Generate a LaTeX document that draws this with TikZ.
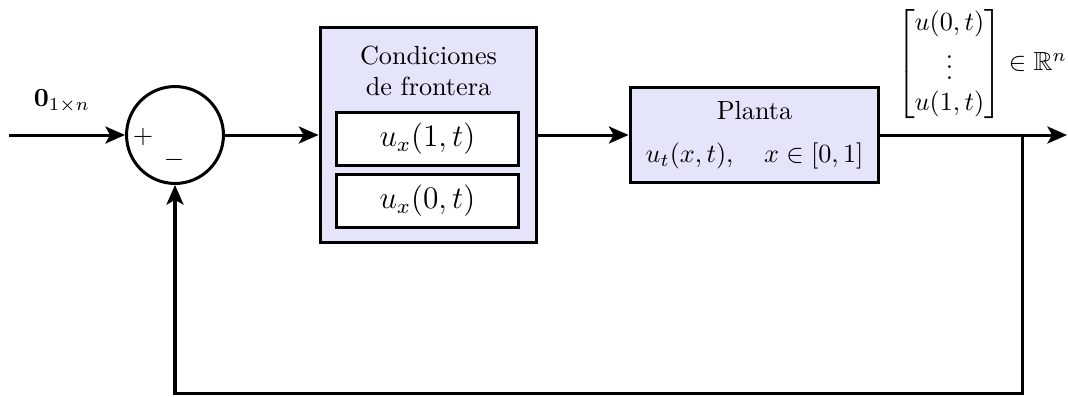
\documentclass[tikz,border=0pt]{standalone}
\usepackage{amsmath,amssymb}
\usetikzlibrary{arrows.meta}
\definecolor{boxfill}{RGB}{228,228,250}
\begin{document}
\begin{tikzpicture}[x=0.3817pt,y=-0.3817pt,
  wire/.style={line width=1.15pt},
  arr/.style={wire,-{Stealth[length=7.5pt,width=6.5pt,inset=1.8pt]}},
  blk/.style={draw,line width=1.15pt,fill=boxfill,inner sep=0pt},
  sub/.style={draw,line width=1.15pt,fill=white,inner sep=0pt,minimum width=69.5pt,minimum height=20.6pt,font=\large},
  sumc/.style={draw,circle,line width=1.15pt,minimum size=37pt,inner sep=0pt}]
\useasboundingbox (0,0) rectangle (1068,396);
% blocks
\node[sumc] (sum) at (175,135) {};
\node at (143,137) (plus) {$+$};
\node at (174,160) (minus) {$-$};
\node[blk,minimum width=82.8pt,minimum height=81.7pt] (bc) at (428.5,135) {};
\node[align=center,inner sep=0pt] (bctext) at (428.5,71) {Condiciones\\de frontera};
\node[sub] (bc1) at (427.5,139) {$u_x(1,t)$};
\node[sub] (bc0) at (427.5,201) {$u_x(0,t)$};
\node[blk,minimum width=95pt,minimum height=35.9pt,align=center] (plant) at (754.5,135)
  {Planta\\[4.5pt]$u_t(x,t),\quad x\in[0,1]$};
% labels
\node (inlabel) at (62,101) {$\mathbf{0}_{1\times n}$};
\node[inner sep=0pt] (outlabel) at (982,64) {$\begin{bmatrix}u(0,t)\\ \vdots\\ u(1,t)\end{bmatrix}\in\mathbb{R}^n$};
% coordinates
\coordinate (in) at (9,135);
\coordinate (out) at (1067,135);
\coordinate (branch) at (1022,135);
\coordinate (fbR) at (1022,393);
\coordinate (fbL) at (175,393);
% connectors
\draw[arr] (in) -- (sum.west);
\draw[arr] (sum.east) -- (bc.west);
\draw[arr] (bc.east) -- (plant.west);
\draw[arr] (plant.east) -- (out);
\draw[arr] (branch) -- (fbR) -- (fbL) -- (sum.south);
\end{tikzpicture}
\end{document}
